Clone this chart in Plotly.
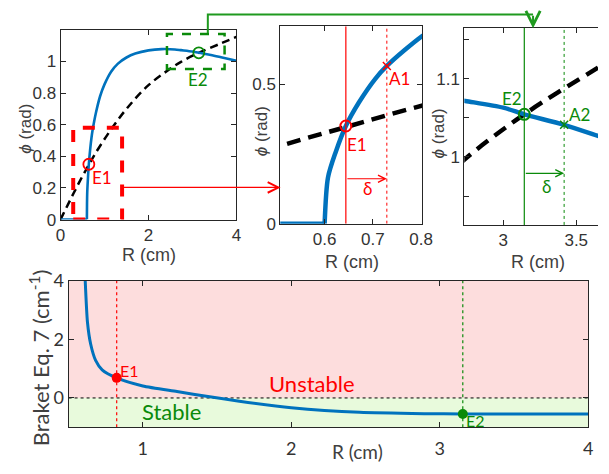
import plotly.graph_objects as go

W, H = 609, 474

# ---------------- data ----------------
# phi(R) solid curve (rad)
phi_R = [0, 0.6, 0.607, 0.623, 0.644, 0.671, 0.705, 0.729, 0.766, 0.803, 0.9, 1.0, 1.15, 1.3,
         1.5, 1.7, 2.0, 2.3, 2.6, 2.74, 3.0, 3.144, 3.417, 3.649, 4.0]
phi_v = [0, 0, 0.166, 0.257, 0.35, 0.434, 0.519, 0.565, 0.622, 0.673, 0.78, 0.855, 0.935, 0.985,
         1.025, 1.05, 1.07, 1.078, 1.076, 1.0716, 1.063, 1.0545, 1.0411, 1.0268, 1.004]
# dashed curve
dash_R = [0, 0.3, 0.508, 0.65, 0.783, 1.1, 1.5, 2.0, 2.5, 2.74, 3.144, 3.649, 4.0]
dash_v = [0, 0.168, 0.279, 0.349, 0.414, 0.55, 0.70, 0.85, 0.955, 0.9976, 1.0545, 1.1143, 1.155]
# equilibrium / shifted points
E1 = (0.644, 0.35)
A1 = (0.729, 0.565)
E2 = (3.144, 1.0545)
A2 = (3.417, 1.0411)
# bracket of Eq. 7 (cm^-1)
br_R = [0.612, 0.627, 0.649, 0.682, 0.726, 0.824, 1.0, 1.23, 1.45, 1.65, 2.0, 2.46, 2.9, 3.155, 3.5, 4.0]
br_v = [4.0, 2.59, 1.83, 1.28, 0.96, 0.685, 0.41, 0.22, 0.04, -0.11, -0.33, -0.49, -0.535, -0.545, -0.547, -0.547]
bE1 = (0.824, 0.685)
bE2 = (3.155, -0.545)

BLUE = '#0072BD'
RED = '#ff0000'
GREEN = '#0a8a0a'
AX = '#262626'

def P(px, py):
    return px / W, 1 - py / H

fig = go.Figure()

# split solid curve into flat part and rising part
k = max(i for i, v in enumerate(phi_v) if v == 0)
flatR, flatV = phi_R[:k + 1], phi_v[:k + 1]
riseR, riseV = phi_R[k:], phi_v[k:]

panels = [('x', 'y', 2.6, 2.5, '8px,5px'), ('x2', 'y2', 4.5, 4.5, '14px,8px'), ('x3', 'y3', 4.5, 4.5, '14px,8px')]
for xa, ya, wb, wd, dsh in panels:
    fig.add_trace(go.Scatter(x=dash_R, y=dash_v, mode='lines', xaxis=xa, yaxis=ya,
                             line=dict(color='black', width=wd, dash=dsh, shape='spline'), showlegend=False))
    fig.add_trace(go.Scatter(x=flatR, y=flatV, mode='lines', xaxis=xa, yaxis=ya,
                             line=dict(color=BLUE, width=wb), showlegend=False))
    fig.add_trace(go.Scatter(x=riseR, y=riseV, mode='lines', xaxis=xa, yaxis=ya,
                             line=dict(color=BLUE, width=wb, shape='spline', smoothing=0.8), showlegend=False))

# panel 1 markers
fig.add_trace(go.Scatter(x=[E1[0]], y=[E1[1]], mode='markers', xaxis='x', yaxis='y',
                         marker=dict(symbol='circle-open', size=11, color=RED, line=dict(width=1.8)), showlegend=False))
fig.add_trace(go.Scatter(x=[E2[0]], y=[E2[1]], mode='markers', xaxis='x', yaxis='y',
                         marker=dict(symbol='circle-open', size=11, color=GREEN, line=dict(width=1.8)), showlegend=False))
# panel 2
fig.add_trace(go.Scatter(x=[E1[0], E1[0]], y=[0, 0.707], mode='lines', xaxis='x2', yaxis='y2',
                         line=dict(color=RED, width=1.2), showlegend=False))
fig.add_trace(go.Scatter(x=[A1[0], A1[0]], y=[0, 0.707], mode='lines', xaxis='x2', yaxis='y2',
                         line=dict(color=RED, width=1, dash='dot'), showlegend=False))
fig.add_trace(go.Scatter(x=[E1[0]], y=[E1[1]], mode='markers', xaxis='x2', yaxis='y2',
                         marker=dict(symbol='circle-open', size=11, color=RED, line=dict(width=2)), showlegend=False))
fig.add_trace(go.Scatter(x=[A1[0]], y=[A1[1]], mode='markers', xaxis='x2', yaxis='y2',
                         marker=dict(symbol='x-thin-open', size=8, color=RED, line=dict(width=1.5, color=RED)), showlegend=False))
# panel 3
fig.add_trace(go.Scatter(x=[E2[0], E2[0]], y=[0.913, 1.165], mode='lines', xaxis='x3', yaxis='y3',
                         line=dict(color=GREEN, width=1.2), showlegend=False))
fig.add_trace(go.Scatter(x=[A2[0], A2[0]], y=[0.913, 1.165], mode='lines', xaxis='x3', yaxis='y3',
                         line=dict(color=GREEN, width=1, dash='dot'), showlegend=False))
fig.add_trace(go.Scatter(x=[E2[0]], y=[E2[1]], mode='markers', xaxis='x3', yaxis='y3',
                         marker=dict(symbol='circle-open', size=11, color=GREEN, line=dict(width=2)), showlegend=False))
fig.add_trace(go.Scatter(x=[A2[0]], y=[A2[1]], mode='markers', xaxis='x3', yaxis='y3',
                         marker=dict(symbol='x-thin-open', size=8, color=GREEN, line=dict(width=1.5, color=GREEN)), showlegend=False))

# bottom panel
fig.add_trace(go.Scatter(x=[0.5, 4], y=[0, 0], mode='lines', xaxis='x4', yaxis='y4',
                         line=dict(color='black', width=1, dash='dot'), showlegend=False))
fig.add_trace(go.Scatter(x=[bE1[0], bE1[0]], y=[-1, 4], mode='lines', xaxis='x4', yaxis='y4',
                         line=dict(color=RED, width=1.2, dash='dot'), showlegend=False))
fig.add_trace(go.Scatter(x=[bE2[0], bE2[0]], y=[-1, 4], mode='lines', xaxis='x4', yaxis='y4',
                         line=dict(color=GREEN, width=1.2, dash='dot'), showlegend=False))
fig.add_trace(go.Scatter(x=br_R, y=br_v, mode='lines', xaxis='x4', yaxis='y4',
                         line=dict(color=BLUE, width=3, shape='spline', smoothing=0.6), showlegend=False))
fig.add_trace(go.Scatter(x=[bE1[0]], y=[bE1[1]], mode='markers', xaxis='x4', yaxis='y4',
                         marker=dict(size=10, color=RED), showlegend=False))
fig.add_trace(go.Scatter(x=[bE2[0]], y=[bE2[1]], mode='markers', xaxis='x4', yaxis='y4',
                         marker=dict(size=10, color=GREEN), showlegend=False))

shapes = [
    dict(type='rect', xref='x4', yref='y4', x0=0.5, x1=4, y0=0, y1=4, fillcolor='rgb(253,221,221)', line=dict(width=0), layer='below'),
    dict(type='rect', xref='x4', yref='y4', x0=0.5, x1=4, y0=-1, y1=0, fillcolor='rgb(232,250,220)', line=dict(width=0), layer='below'),
    dict(type='rect', xref='x', yref='y', x0=0.289, x1=1.40, y0=0, y1=0.581, line=dict(color=RED, width=4, dash='dash')),
    dict(type='rect', xref='x', yref='y', x0=2.42, x1=3.73, y0=0.953, y1=1.173, line=dict(color=GREEN, width=2.5, dash='dash')),
]
# green connector path (paper)
p0 = P(208.3, 22); p1 = P(208.3, 2.7); p2 = P(542.3, 2.7)
shapes.append(dict(type='path', xref='paper', yref='paper',
                   path=f'M {p0[0]},{p0[1]} L {p1[0]},{p1[1]} L {p2[0]},{p2[1]}',
                   line=dict(color='#1f9a1f', width=2)))

ann = []
def txt(px, py, s, color, size, family='Lato', angle=0):
    x, y = P(px, py)
    ann.append(dict(x=x, y=y, xref='paper', yref='paper', text=s, showarrow=False,
                    font=dict(color=color, size=size, family=family), textangle=angle,
                    xanchor='center', yanchor='middle'))

# green connector arrow head
hx, hy = P(542.3, 17)
ann.append(dict(x=hx, y=hy, xref='paper', yref='paper', ax=0, ay=-14, axref='pixel', ayref='pixel',
                text='', showarrow=True, arrowhead=5, arrowsize=1.4, arrowwidth=2, arrowcolor='#1f9a1f', standoff=0))
# red connector arrow
rx, ry = P(283, 184)
ann.append(dict(x=rx, y=ry, xref='paper', yref='paper', ax=-(283 - 122), ay=0, axref='pixel', ayref='pixel',
                text='', showarrow=True, arrowhead=5, arrowsize=1.6, arrowwidth=1.3, arrowcolor=RED, standoff=0))
# delta arrows
ann.append(dict(x=A1[0], y=0.161, xref='x2', yref='y2', ax=E1[0], ay=0.161, axref='x2', ayref='y2',
                text='', showarrow=True, arrowhead=5, arrowsize=1.3, arrowwidth=1.1, arrowcolor=RED, standoff=0))
ann.append(dict(x=A2[0], y=0.979, xref='x3', yref='y3', ax=E2[0], ay=0.979, axref='x3', ayref='y3',
                text='', showarrow=True, arrowhead=5, arrowsize=1.3, arrowwidth=1.1, arrowcolor=GREEN, standoff=0))

# labels
txt(100, 174, 'E1', RED, 17)
txt(198.3, 71, 'E2', GREEN, 17)
txt(362, 139, 'E1', RED, 17)
txt(405, 70, 'A1', RED, 17)
txt(372, 185, 'δ', RED, 17)
txt(521, 91, 'E2', GREEN, 17)
txt(590, 107, 'A2', GREEN, 17)
txt(555.7, 183, 'δ', GREEN, 17)
txt(127.7, 375.5, 'E1', RED, 16)
txt(483, 428.5, 'E2', GREEN, 16)
txt(315, 390, 'Unstable', RED, 22)
txt(170.5, 418.5, 'Stable', GREEN, 22)

TF = 'Liberation Sans'
txt(147.5, 255, 'R (cm)', '#404040', 18, TF)
txt(356, 262, 'R (cm)', '#404040', 18, TF)
txt(547, 262, 'R (cm)', '#404040', 18, TF)
txt(21, 122, '<i>ϕ</i> (rad)', '#404040', 17, TF, -90)
txt(263, 125, '<i>ϕ</i> (rad)', '#404040', 17, TF, -90)
txt(445, 127, '<i>ϕ</i> (rad)', '#404040', 17, TF, -90)
txt(361.7, 461, 'R (cm)', '#404040', 19, 'Lato')
txt(35, 363, 'Braket Eq. 7 (cm<sup>-1</sup>)', '#404040', 22, 'Lato', -90)

def axstyle(**kw):
    d = dict(showline=True, linecolor=AX, linewidth=1, mirror='ticks', ticks='inside', ticklen=5,
             tickcolor=AX, showgrid=False, zeroline=False,
             tickfont=dict(family=TF, size=17, color='#333333'))
    d.update(kw)
    return d

layout = dict(
    width=W, height=H, margin=dict(l=0, r=0, t=0, b=0),
    paper_bgcolor='white', plot_bgcolor='white', showlegend=False,
    xaxis=axstyle(domain=[57 / W, 237.7 / W], range=[0, 4], tickvals=[0, 2, 4], anchor='y'),
    yaxis=axstyle(domain=[1 - 217.7 / H, 1 - 18.7 / H], range=[0, 1.2], tickvals=[0, 0.2, 0.4, 0.6, 0.8, 1],
                  ticktext=['0', '0.2', '0.4', '0.6', '0.8', '1'], anchor='x'),
    xaxis2=axstyle(domain=[282.7 / W, 428.3 / W], range=[0.508, 0.802], tickvals=[0.6, 0.7, 0.8], anchor='y2'),
    yaxis2=axstyle(domain=[1 - 222 / H, 1 - 15 / H], range=[0, 0.707], tickvals=[0, 0.5], anchor='x2'),
    xaxis3=axstyle(domain=[471.7 / W, 1], range=[2.733, 3.649], tickvals=[3, 3.5], anchor='y3'),
    yaxis3=axstyle(domain=[1 - 223.3 / H, 1 - 16.7 / H], range=[0.913, 1.165], tickvals=[0.95, 1, 1.05, 1.1, 1.15],
                   ticktext=['', '1', '', '1.1', ''], anchor='x3', mirror=False),
    xaxis4=axstyle(domain=[65.3 / W, 599 / W], range=[0.5, 4], tickvals=[1, 2, 3, 4], anchor='y4',
                   ticklabelstandoff=5,
                   tickfont=dict(family='Lato', size=18, color='#333333')),
    yaxis4=axstyle(domain=[1 - 435.5 / H, 1 - 281.7 / H], range=[-1, 4], tickvals=[0, 2, 4], anchor='x4',
                   tickfont=dict(family='Lato', size=18, color='#333333')),
    shapes=shapes, annotations=ann,
)
fig.update_layout(**layout)
fig.write_html('out.html')
